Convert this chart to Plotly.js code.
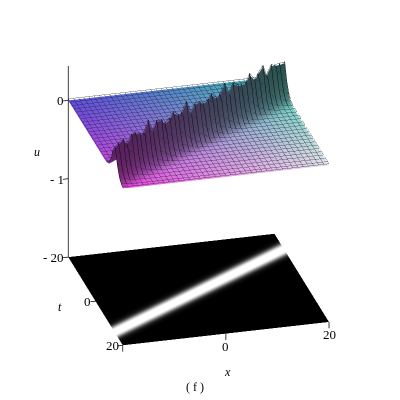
<!DOCTYPE html>
<html><head><meta charset="utf-8"><script src="https://cdn.plot.ly/plotly-3.0.1.min.js"></script>
<style>html,body{margin:0;padding:0;background:#fff}#g{width:400px;height:400px}</style></head>
<body><div id="g"></div><script>
var xGrid=[-20,-19,-18,-17,-16,-15,-14,-13,-12,-11,-10,-9,-8,-7,-6,-5,-4,-3,-2,-1,0,1,2,3,4,5,6,7,8,9,10,11,12,13,14,15,16,17,18,19,20];
var tGrid=[-20,-18.5,-17,-15.5,-14,-12.5,-11,-9.5,-8,-6.5,-5,-3.5,-2,-0.5,1,2.5,4,5.5,7,8.5,10,11.5,13,14.5,16,17.5,19,20];
var ridgeT=[14,13.3,12.6,12,11.3,10.6,9.9,9.3,8.6,7.9,7.2,6.6,5.9,5.2,4.5,3.9,3.2,2.5,1.8,1.2,0.5,-0.2,-0.9,-1.5,-2.2,-2.9,-3.6,-4.2,-4.9,-5.6,-6.3,-6.9,-7.6,-8.3,-9,-9.6,-10.3,-11,-11.7,-12.3,-13];
var peakU=[0.42,0.40,0.46,0.36,0.44,0.48,0.38,0.42,0.49,0.38,0.44,0.48,0.37,0.42,0.49,0.38,0.44,0.48,0.37,0.42,0.49,0.38,0.44,0.48,0.37,0.42,0.49,0.38,0.44,0.48,0.37,0.42,0.49,0.38,0.44,0.48,0.37,0.42,0.49,0.40,0.46];
var profileD=[0,1,2,3,4,5,6,7];
var profileU=[1,0.68,0.4,0.2,0.09,0.03,0.01,0];
var shadeD=[0,1,2,3,4,5,6,7];
var shadeV=[0.42,0.42,0.46,0.52,0.62,0.76,0.92,1];
var cornerBL=[95,75,220], cornerFL=[232,70,222], cornerBR=[64,196,176], cornerFR=[228,228,232];
var floorD=[-5,-4,-3.2,-2.5,-1.9,-1.4,-1,1,1.4,1.9,2.5,3.2,4,5];
var floorG=[0,8,30,90,170,230,255,255,230,170,90,30,8,0];
var uTicks=[0,-1], uLabels=['0','- 1'];
var tTicks=[-20,0,20], tLabels=['- 20','0','20'];
var xTicks=[-20,0,20], xLabels=['','0','20'];
var uFloor=-2, uTop=0.44;

function look(xs,ys,d){d=Math.abs(d);for(var k=0;k<xs.length-1;k++){if(d<=xs[k+1]){var f=(d-xs[k])/(xs[k+1]-xs[k]);return ys[k]+f*(ys[k+1]-ys[k]);}}return ys[ys.length-1];}
var X=[],Y=[],Z=[],VC=[],I=[],J=[],K=[];
var nx=xGrid.length,nt=tGrid.length,zm=[];
tGrid.forEach(function(t,j){zm.push([]);xGrid.forEach(function(x,i){
  var d=t-ridgeT[i],u=peakU[i]*look(profileD,profileU,d);zm[j].push(u);
  X.push(x);Y.push(t);Z.push(u);
  var a=(x+20)/40,b=(t+20)/40,s=look(shadeD,shadeV,d),c=[0,1,2].map(function(q){
    return Math.round(s*((1-a)*(1-b)*cornerBL[q]+(1-a)*b*cornerFL[q]+a*(1-b)*cornerBR[q]+a*b*cornerFR[q]));});
  VC.push('rgb('+c.join(',')+')');
});});
for(var j=0;j<nt-1;j++)for(var i=0;i<nx-1;i++){var p=j*nx+i;I.push(p,p+1);J.push(p+1,p+nx+1);K.push(p+nx,p+nx);}
var noLight={ambient:1,diffuse:0,specular:0,roughness:1,fresnel:0};
var top_={type:'mesh3d',x:X,y:Y,z:Z,i:I,j:J,k:K,vertexcolor:VC,lighting:noLight,flatshading:false,hoverinfo:'skip',showscale:false};
var lx=[],ly=[],lz=[],rx=[],ry=[],rz=[],off=0.02;
tGrid.forEach(function(t,j){xGrid.forEach(function(x,i){lx.push(x);ly.push(t);lz.push(zm[j][i]+off);});lx.push(null);ly.push(null);lz.push(null);});
xGrid.forEach(function(x,i){tGrid.forEach(function(t,j){lx.push(x);ly.push(t);lz.push(zm[j][i]+off);
  if(Math.abs(t-ridgeT[i])<6){rx.push(x);ry.push(t);rz.push(zm[j][i]+off);}});
  lx.push(null);ly.push(null);lz.push(null);rx.push(null);ry.push(null);rz.push(null);});
var mesh={type:'scatter3d',mode:'lines',x:lx,y:ly,z:lz,line:{color:'#1c1c2c',width:1},opacity:0.6,hoverinfo:'skip',showlegend:false};
var ridgeLines={type:'scatter3d',mode:'lines',x:rx,y:ry,z:rz,line:{color:'#0c0c14',width:1},hoverinfo:'skip',showlegend:false};
var fx=[-20,20],fy=[-20,-20],fz=[uFloor,uFloor],fc=['rgb(0,0,0)','rgb(0,0,0)'],fi=[],fj=[],fk=[];
floorD.forEach(function(d,q){fx.push(-20,20);fy.push(ridgeT[0]+d,ridgeT[nx-1]+d);fz.push(uFloor,uFloor);var g='rgb('+floorG[q]+','+floorG[q]+','+floorG[q]+')';fc.push(g,g);});
fx.push(-20,20);fy.push(20,20);fz.push(uFloor,uFloor);fc.push('rgb(0,0,0)','rgb(0,0,0)');
for(var q=0;q<fx.length/2-1;q++){var a=2*q;fi.push(a,a+1);fj.push(a+1,a+3);fk.push(a+2,a+2);}
var floor_={type:'mesh3d',x:fx,y:fy,z:fz,i:fi,j:fj,k:fk,vertexcolor:fc,lighting:noLight,hoverinfo:'skip',showscale:false};
var ax=[],ay=[],az=[];
function seg(a,b){ax.push(a[0],b[0],null);ay.push(a[1],b[1],null);az.push(a[2],b[2],null);}
seg([-20,-20,uFloor],[-20,-20,uTop]);
uTicks.forEach(function(u){seg([-21,-20,u],[-20,-20,u]);});
tTicks.forEach(function(t){seg([-21,t,uFloor],[-20,t,uFloor]);});
xTicks.forEach(function(x){seg([x,20,uFloor],[x,20,uFloor-0.08]);});
var axes={type:'scatter3d',mode:'lines',x:ax,y:ay,z:az,line:{color:'#000',width:1.5},hoverinfo:'skip',showlegend:false};
var serif='"Liberation Serif",serif';
var ann=[];
function lab(x,y,z,text,xa,dx,dy){ann.push({x:x,y:y,z:z,text:text,showarrow:false,xanchor:xa,yanchor:'middle',xshift:dx,yshift:dy,font:{family:serif,size:13,color:'#000'}});}
uTicks.forEach(function(u,k){lab(-21,-20,u,uLabels[k],'right',3,0);});
tTicks.forEach(function(t,k){lab(-21,t,uFloor,tLabels[k],'right',3,0);});
xTicks.forEach(function(x,k){if(xLabels[k])lab(x,20,uFloor,xLabels[k],'center',0,-13);});
function paper(px,py,text,size){return {xref:'paper',yref:'paper',x:px/400,y:1-py/400,text:text,showarrow:false,xanchor:'center',yanchor:'middle',font:{family:serif,size:size,color:'#000'}};}
var hid={visible:false,showgrid:false,zeroline:false,showticklabels:false,showspikes:false,title:{text:''}};
var camC={x:0.0316,y:-0.008,z:0}, camE={x:-0.432,y:-1.634,z:0.80};
var layout={width:400,height:400,margin:{l:0,r:0,t:0,b:0},paper_bgcolor:'#fff',showlegend:false,
 annotations:[paper(37,152,'<i>u</i>',12),paper(60,307,'<i>t</i>',12),paper(228,372,'<i>x</i>',12),paper(195,387,'(\u00a0f\u00a0)',12)],
 scene:{domain:{x:[0,1],y:[0,1]},dragmode:false,bgcolor:'#fff',
  xaxis:Object.assign({range:[-22,20]},hid),
  yaxis:Object.assign({range:[20,-20]},hid),
  zaxis:Object.assign({range:[-2.2,0.5]},hid),
  aspectmode:'manual',aspectratio:{x:1.12,y:1.067,z:1.17},
  camera:{projection:{type:'orthographic'},up:{x:0,y:0,z:1},center:camC,eye:{x:camE.x+camC.x,y:camE.y+camC.y,z:camE.z+camC.z}},
  annotations:ann}};
Plotly.newPlot('g',[floor_,top_,mesh,ridgeLines,axes],layout,{displayModeBar:false});
</script></body></html>
